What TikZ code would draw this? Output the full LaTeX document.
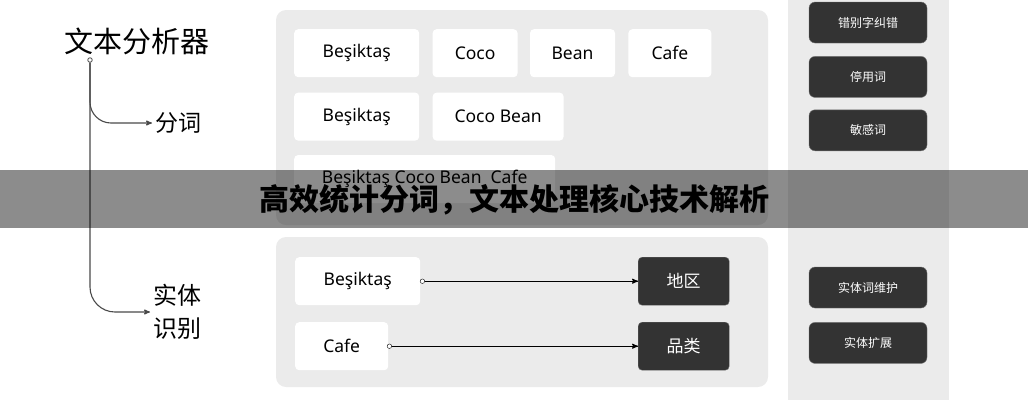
\documentclass[tikz,border=0pt]{standalone}
\usepackage{fontspec}
\setmainfont{Noto Sans CJK SC}
\newfontfamily\latinfont{Noto Sans}
\usepackage{tikz}
\usetikzlibrary{arrows}
\usetikzlibrary{positioning}

\definecolor{panelgray}{HTML}{EBEBEB}
\definecolor{darkfill}{HTML}{333333}
\definecolor{linegray}{HTML}{4A4A4A}

\tikzset{
  panel/.style={fill=panelgray, rounded corners=10pt},
  wordbox/.style={fill=white, rounded corners=4pt, minimum width=#1, minimum height=48pt, inner sep=0pt, font=\latinfont\fontsize{17.5pt}{20pt}\selectfont},
  darkbox/.style={fill=darkfill, draw=black!60, rounded corners=4pt, minimum width=91pt, minimum height=48pt, inner sep=0pt, text=white, font=\fontsize{17pt}{20pt}\selectfont},
  toolbox/.style={fill=darkfill, draw=black!55, rounded corners=6pt, minimum width=118pt, minimum height=41pt, inner sep=0pt, text=white, font=\fontsize{12pt}{14pt}\selectfont},
  tipdot/.style={circle, draw, fill=white, inner sep=0pt, minimum size=4.5pt},
}

\begin{document}
\begin{tikzpicture}[x=1pt, y=1pt]
\useasboundingbox (0,0) rectangle (1028,-400);
% grey panels
\fill[panelgray] (788,0) rectangle (949,-400);
\fill[panel] (276,-10) rectangle (768,-225);
\fill[panel] (276,-237) rectangle (768,-387);

% tree on the left
\node[font=\fontsize{29pt}{32pt}\selectfont] (root) at (137,-41) {文本分析器};
\node[tipdot, draw=linegray, line width=.8pt] (rootdot) at (90,-60) {};
\node[anchor=west, font=\fontsize{23pt}{26pt}\selectfont] (seg) at (152,-123) {分词};
\node[anchor=west, align=left, font=\fontsize{24pt}{33pt}\selectfont] (ner) at (150,-312) {实体\\识别};
\draw[linegray, line width=1.1pt, ->, >=stealth', rounded corners=21pt] (rootdot) |- (seg);
\draw[linegray, line width=1.1pt, ->, >=stealth', rounded corners=25pt] (rootdot) |- (ner);

% word boxes
\node[wordbox=125pt, anchor=north west] (w1) at (294,-29) {Beşiktaş};
\node[wordbox=85pt, right=13pt of w1] (w2) {Coco};
\node[wordbox=85pt, right=12pt of w2] (w3) {Bean};
\node[wordbox=83pt, right=13pt of w3] (w4) {Cafe};
\node[wordbox=125pt, below=15pt of w1] (w5) {Beşiktaş};
\node[wordbox=131pt, right=13pt of w5] (w6) {Coco Bean};
\node[wordbox=261pt, anchor=north west] (w7) at ([yshift=-14pt]w5.south west) {Beşiktaş Coco Bean\ \ Cafe};

% entities
\node[wordbox=125pt, anchor=north west] (e1) at (295,-257) {Beşiktaş};
\node[wordbox=93pt, anchor=north west] (e2) at (295,-322) {Cafe};
\node[darkbox, anchor=north west] (c1) at (638,-257) {地区};
\node[darkbox, anchor=north west] (c2) at (638,-322) {品类};
\node[tipdot] (e1dot) at ([xshift=2pt]e1.east) {};
\node[tipdot] (e2dot) at ([xshift=1pt]e2.east) {};
\draw[line width=1.1pt, ->, >=stealth'] (e1dot) -- (c1);
\draw[line width=1.1pt, ->, >=stealth'] (e2dot) -- (c2);

% tools column
\node[toolbox] (t1) at (868,-22.5) {错别字纠错};
\node[toolbox, below=13pt of t1] (t2) {停用词};
\node[toolbox, below=12pt of t2] (t3) {敏感词};
\node[toolbox] (t4) at (868,-287.5) {实体词维护};
\node[toolbox, below=14pt of t4] (t5) {实体扩展};

% banner
\fill[black, opacity=0.45] (0,-170) rectangle (1028,-228);
\node[font=\fontsize{30pt}{34pt}\selectfont\bfseries] (headline) at (514,-200) {高效统计分词，文本处理核心技术解析};
\end{tikzpicture}
\end{document}
